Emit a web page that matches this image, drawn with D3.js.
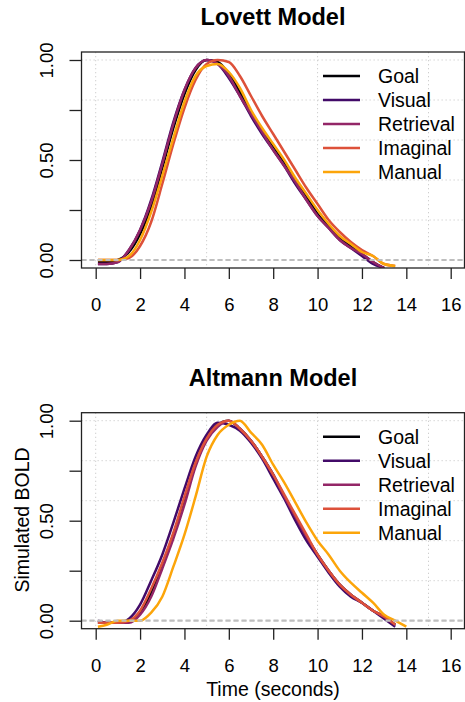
<!DOCTYPE html>
<html>
<head>
<meta charset="utf-8">
<script src="https://cdn.jsdelivr.net/npm/d3@7"></script>
<style>
  html, body { margin: 0; padding: 0; background: #fff; }
  svg { display: block; font-family: "Liberation Sans", Arial, Helvetica, sans-serif; }
</style>
</head>
<body>
<svg id="chart" width="465" height="702"></svg>
<script>
// ---- data ----
const times = [0.1,0.5,1,1.5,2,2.5,3,3.5,4,4.5,5,5.5,6,6.5,7,7.5,8,8.5,9,9.5,10,10.5,11,11.5,12,12.5,13,13.5,14,14.5];
const seriesNames = ["Goal", "Visual", "Retrieval", "Imaginal", "Manual"];
const seriesColors = ["#000004", "#420A68", "#932667", "#DD513A", "#FCA50A"];

const lovettGoal      = [-0.01,-0.01,0.00,0.04,0.13,0.27,0.46,0.66,0.83,0.95,1.00,0.99,0.93,0.84,0.74,0.65,0.57,0.49,0.40,0.32,0.23,0.17,0.11,0.07,0.03,-0.01,-0.04,null,null,null];
const lovettVisual    = [-0.02,-0.02,-0.01,0.05,0.15,0.30,0.49,0.69,0.85,0.96,1.00,0.98,0.91,0.82,0.72,0.63,0.55,0.47,0.38,0.30,0.22,0.16,0.10,0.06,0.02,-0.02,-0.04,null,null,null];
const lovettRetrieval = [-0.02,-0.02,-0.01,0.05,0.15,0.29,0.48,0.68,0.85,0.96,1.00,0.98,0.92,0.82,0.73,0.64,0.55,0.47,0.39,0.30,0.22,0.16,0.10,0.06,0.03,-0.01,-0.04,null,null,null];
const lovettImaginal  = [0.00,0.00,0.00,0.01,0.07,0.19,0.38,0.58,0.76,0.90,0.98,1.00,0.99,0.92,0.82,0.72,0.63,0.54,0.45,0.36,0.28,0.20,0.14,0.09,0.05,0.02,-0.02,-0.03,null,null];
const lovettManual    = [0.00,0.00,0.00,0.02,0.10,0.24,0.42,0.61,0.79,0.92,0.97,0.98,0.94,0.86,0.75,0.66,0.58,0.50,0.41,0.33,0.25,0.18,0.12,0.08,0.04,0.02,-0.02,-0.03,null,null];

const altGoal      = [-0.01,-0.01,-0.01,0.00,0.04,0.14,0.27,0.43,0.60,0.78,0.91,0.98,1.00,0.96,0.90,0.82,0.73,0.62,0.52,0.42,0.33,0.25,0.18,0.13,0.09,0.05,0.02,-0.02,null,null];
const altVisual    = [0.00,-0.01,-0.01,0.01,0.08,0.20,0.33,0.49,0.66,0.82,0.93,0.99,0.98,0.95,0.89,0.81,0.71,0.61,0.50,0.40,0.32,0.24,0.17,0.12,0.09,0.05,0.01,-0.03,null,null];
const altRetrieval = [-0.01,-0.01,-0.01,-0.01,0.03,0.12,0.26,0.41,0.58,0.77,0.90,0.97,1.00,0.96,0.90,0.82,0.73,0.62,0.52,0.42,0.33,0.25,0.18,0.13,0.09,0.05,0.02,-0.02,null,null];
const altImaginal  = [-0.01,-0.01,-0.01,0.00,0.05,0.16,0.29,0.44,0.62,0.79,0.91,0.98,1.00,0.96,0.90,0.82,0.73,0.63,0.53,0.43,0.33,0.25,0.18,0.13,0.09,0.05,0.02,-0.02,null,null];
const altManual    = [-0.03,-0.02,0.00,0.00,0.00,0.04,0.12,0.27,0.43,0.62,0.82,0.93,0.98,1.00,0.94,0.88,0.78,0.69,0.59,0.49,0.40,0.33,0.25,0.19,0.14,0.09,0.03,0.00,-0.03,null];

const xTicks = [0,2,4,6,8,10,12,14,16];
const yTicks = [0,0.25,0.5,0.75,1];
const yTickLabels = ["0.00","","0.50","","1.00"];
const xGrid = [0,5,10,15];
const yGrid = [0,0.2,0.4,0.6,0.8,1.0];

const panels = [
  { title: "Lovett Model", top: 52, series: [lovettGoal, lovettVisual, lovettRetrieval, lovettImaginal, lovettManual], xlab: false, ylab: false },
  { title: "Altmann Model", top: 412.7, series: [altGoal, altVisual, altRetrieval, altImaginal, altManual], xlab: true, ylab: true }
];

// ---- drawing ----
const svg = d3.select("#chart");
const x = d3.scaleLinear().domain([0, 16]).range([95.7, 450.7]);

panels.forEach((p, pi) => {
  const y = d3.scaleLinear().domain([-0.04, 1.04]).range([p.top + 216, p.top]);
  const g = svg.append("g");
  const left = x(-0.64), right = Math.min(x(16.64), 464.5);
  const clipId = "clip" + pi;
  svg.append("clipPath").attr("id", clipId).append("rect")
    .attr("x", left).attr("y", y(1.04)).attr("width", right - left).attr("height", y(-0.04) - y(1.04));

  // grid
  g.selectAll(".vg").data(xGrid).join("line")
    .attr("x1", d => x(d)).attr("x2", d => x(d)).attr("y1", y(1.04)).attr("y2", y(-0.04))
    .attr("stroke", "#cfcfcf").attr("stroke-width", 1).attr("stroke-dasharray", "1.3,2.7");
  g.selectAll(".hg").data(yGrid).join("line")
    .attr("x1", left).attr("x2", right).attr("y1", d => y(d)).attr("y2", d => y(d))
    .attr("stroke", "#cfcfcf").attr("stroke-width", 1).attr("stroke-dasharray", "1.3,2.7");

  // lines
  const line = d3.line()
    .defined(d => d[1] !== null)
    .x(d => x(d[0])).y(d => y(d[1]))
    .curve(d3.curveMonotoneX);
  const lg = g.append("g").attr("clip-path", `url(#${clipId})`);
  p.series.forEach((s, i) => {
    lg.append("path")
      .attr("d", line(times.map((t, k) => [t, s[k]])))
      .attr("fill", "none").attr("stroke", seriesColors[i]).attr("stroke-width", 2.5)
      .attr("stroke-linejoin", "round");
  });

  // zero line
  g.append("line").attr("x1", left).attr("x2", right).attr("y1", y(0)).attr("y2", y(0))
    .attr("stroke", "#bebebe").attr("stroke-width", 2.2).attr("stroke-dasharray", "5,3");

  // box
  g.append("rect").attr("x", left).attr("y", y(1.04)).attr("width", right - left).attr("height", y(-0.04) - y(1.04))
    .attr("fill", "none").attr("stroke", "#222").attr("stroke-width", 1.3);

  // x axis
  const xa = g.append("g").attr("transform", `translate(0,${y(-0.04)})`)
    .call(d3.axisBottom(x).tickValues(xTicks).tickSize(11).tickPadding(6).tickFormat(d3.format("d")));
  xa.select(".domain").remove();
  xa.selectAll(".tick line").attr("stroke", "#222").attr("stroke-width", 1.3);
  xa.selectAll(".tick text").attr("font-size", 18.5).attr("fill", "#000")
    .attr("font-family", "Liberation Sans, Arial, sans-serif")
    .attr("dy", null).attr("y", 43);

  // y axis
  const ya = g.append("g").attr("transform", `translate(${left},0)`)
    .call(d3.axisLeft(y).tickValues(yTicks).tickSize(12).tickFormat((d, i) => yTickLabels[i]));
  ya.select(".domain").remove();
  ya.selectAll(".tick line").attr("stroke", "#222").attr("stroke-width", 1.3);
  ya.selectAll(".tick text").attr("font-size", 18.5).attr("fill", "#000")
    .attr("font-family", "Liberation Sans, Arial, sans-serif")
    .attr("text-anchor", "middle").attr("x", null).attr("dy", null)
    .attr("transform", `translate(${53 - left},0) rotate(-90)`);

  // title
  svg.append("text").attr("x", 273).attr("y", p.top - 27)
    .attr("text-anchor", "middle").attr("font-weight", "bold").attr("font-size", 23.5)
    .text(p.title);

  // legend
  seriesNames.forEach((n, i) => {
    const ly = p.top + 24 + i * 24;
    g.append("line").attr("x1", 323).attr("x2", 360).attr("y1", ly).attr("y2", ly)
      .attr("stroke", seriesColors[i]).attr("stroke-width", 2.5);
    g.append("text").attr("x", 378).attr("y", ly + 7.2)
      .attr("font-size", 19.5).text(n);
  });

  if (p.xlab) {
    svg.append("text").attr("x", 273).attr("y", 696).attr("text-anchor", "middle")
      .attr("font-size", 19.5).text("Time (seconds)");
  }
  if (p.ylab) {
    svg.append("text").attr("transform", `translate(29,520) rotate(-90)`)
      .attr("text-anchor", "middle").attr("font-size", 19.5).text("Simulated BOLD");
  }
});
</script>
</body>
</html>
